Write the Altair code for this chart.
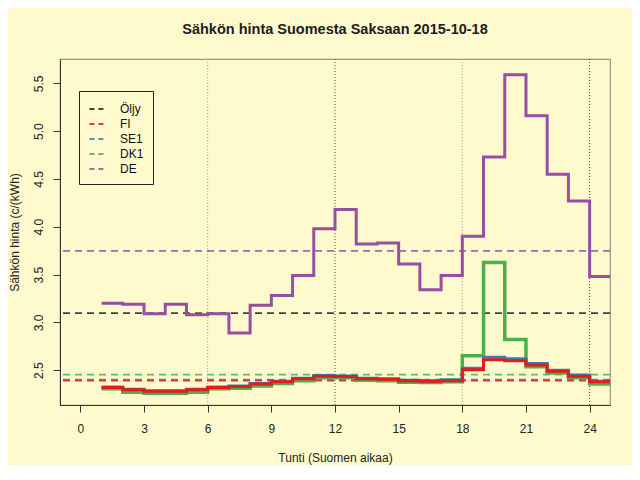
import altair as alt
import pandas as pd

# ---- data ----
hours = list(range(1, 26))  # step starts (last value repeated to reach the edge)
series_names = ["Öljy", "FI", "SE1", "DK1", "DE"]
series_colors = ["#222222", "#E41A1C", "#377EB8", "#4DAF4A", "#984EA3"]

fi = [2.32, 2.295, 2.28, 2.28, 2.295, 2.32, 2.33, 2.355, 2.38, 2.41, 2.437, 2.435,
      2.41, 2.405, 2.39, 2.385, 2.39, 2.505, 2.61, 2.60, 2.555, 2.49, 2.437, 2.38]
se1 = [2.325, 2.30, 2.285, 2.285, 2.30, 2.325, 2.335, 2.36, 2.385, 2.415, 2.445, 2.44,
       2.415, 2.41, 2.395, 2.39, 2.40, 2.52, 2.635, 2.62, 2.57, 2.50, 2.45, 2.385]
dk1 = [2.305, 2.27, 2.26, 2.26, 2.27, 2.305, 2.31, 2.335, 2.36, 2.39, 2.42, 2.42,
       2.395, 2.39, 2.375, 2.37, 2.38, 2.65, 3.625, 2.82, 2.535, 2.47, 2.42, 2.355]
de = [3.20, 3.19, 3.09, 3.19, 3.08, 3.09, 2.89, 3.18, 3.28, 3.49, 3.98, 4.18,
      3.82, 3.83, 3.61, 3.34, 3.49, 3.90, 4.73, 5.59, 5.16, 4.55, 4.27, 3.48]

ref_levels = [3.096, 2.39, 2.40, 2.453, 3.747]  # Öljy, FI, SE1, DK1, DE (dashed)
vlines = [6, 12, 18, 24]
vline_colors = ["#9a9a9a", "#444444", "#9a9a9a", "#444444"]

x_ticks = [0, 3, 6, 9, 12, 15, 18, 21, 24]
y_ticks = [2.5, 3.0, 3.5, 4.0, 4.5, 5.0, 5.5]

FONT = "Liberation Sans"
BG = "#FFFACD"

x_scale = alt.Scale(domain=[-0.96, 24.96], nice=False, zero=False)
y_scale = alt.Scale(domain=[2.136, 5.754], nice=False, zero=False)

x_axis = alt.Axis(values=x_ticks, title="Tunti (Suomen aikaa)", grid=False,
                  tickSize=7, labelPadding=11, titlePadding=18, format="d",
                  domainColor="#333333", tickColor="#333333")
y_axis = alt.Axis(values=y_ticks, title="Sähkön hinta (c/(kWh)", grid=False,
                  tickSize=7, labelAngle=-90, labelAlign="center",
                  labelBaseline="bottom", labelPadding=8, titlePadding=11,
                  format=".1f", domainColor="#333333", tickColor="#333333")


def step_df(vals):
    return pd.DataFrame({"hour": hours, "price": vals + [vals[-1]]})


vdf = pd.DataFrame({"h": vlines, "c": vline_colors})
vrules = alt.Chart(vdf).mark_rule(strokeDash=[1, 2], strokeWidth=1).encode(
    x=alt.X("h:Q", scale=x_scale, axis=x_axis),
    stroke=alt.Stroke("c:N", scale=None, legend=None),
)

ref_df = pd.DataFrame({"series": series_names, "level": ref_levels})
ref_order = ["SE1", "FI", "DK1", "Öljy", "DE"]
ref_df["o"] = ref_df["series"].map({s: i for i, s in enumerate(ref_order)})
ref_df = ref_df.sort_values("o")
hrules = alt.Chart(ref_df).mark_rule(strokeDash=[7, 5], strokeWidth=1.8, opacity=0.85).encode(
    y=alt.Y("level:Q", scale=y_scale, axis=y_axis),
    color=alt.Color(
        "series:N",
        scale=alt.Scale(domain=series_names, range=series_colors),
        legend=alt.Legend(
            title=None, orient="none", legendX=19, legendY=32,
            direction="vertical",
            symbolType="stroke", symbolDash=[5, 4],
            symbolStrokeWidth=2, symbolSize=230, labelFontSize=12,
            labelFont=FONT, labelColor="#111111", rowPadding=0,
            padding=9, strokeColor="#222222", labelOffset=14,
            values=series_names, fillColor=BG,
        ),
    ),
)


def step_layer(vals, color, width):
    return alt.Chart(step_df(vals)).mark_line(
        interpolate="step-after", color=color, strokeWidth=width, clip=True
    ).encode(
        x=alt.X("hour:Q", scale=x_scale, axis=x_axis),
        y=alt.Y("price:Q", scale=y_scale, axis=y_axis),
    )


chart = alt.layer(
    vrules,
    hrules,
    step_layer(dk1, "#4DAF4A", 3.5),
    step_layer(se1, "#377EB8", 3),
    step_layer(fi, "#E41A1C", 3),
    step_layer(de, "#984EA3", 3),
).properties(
    width=550,
    height=346,
    padding={"left": 52, "top": 51, "right": 22, "bottom": 60},
    autosize="none",
    background=BG,
    title=alt.Title("Sähkön hinta Suomesta Saksaan 2015-10-18", fontSize=14.5,
                    font=FONT, fontWeight="bold", color="#221a22", offset=21,
                    anchor="middle"),
).configure_view(
    stroke="#9a9480", strokeWidth=1.2, fill=BG
).configure_axis(
    labelFont=FONT, titleFont=FONT, labelFontSize=12, titleFontSize=12,
    labelColor="#222222", titleColor="#222222", titleFontWeight="normal",
)

chart.save("out.html", embed_options={"renderer": "svg", "actions": False})
